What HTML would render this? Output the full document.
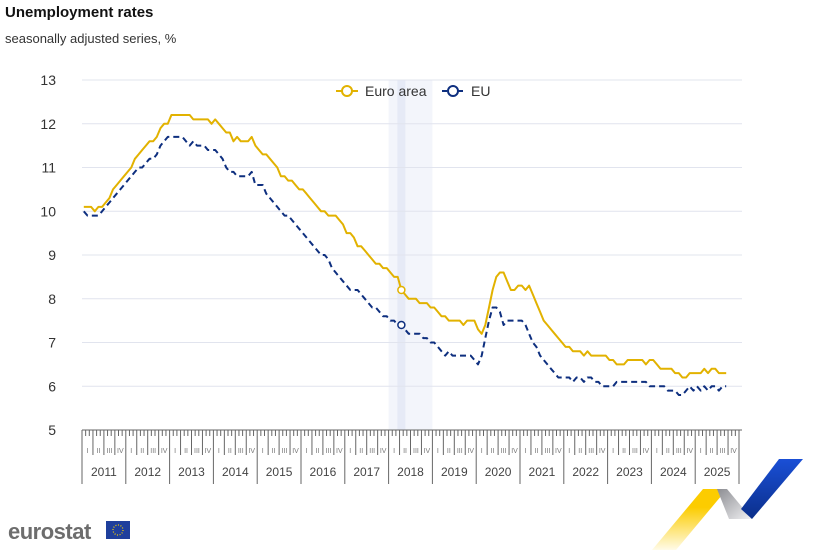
<!DOCTYPE html>
<html><head><meta charset="utf-8"><style>
body{margin:0;width:823px;height:550px;background:#fff;font-family:"Liberation Sans",Arial,sans-serif;overflow:hidden}
svg{position:absolute;left:0;top:0}
</style></head><body>
<svg id="c" width="823" height="550">
<defs>
 <linearGradient id="gy" x1="0" y1="0" x2="0" y2="1"><stop offset="0.3" stop-color="#fccc00"/><stop offset="1" stop-color="#fffbe8"/></linearGradient>
 <linearGradient id="gg" x1="0" y1="0" x2="1" y2="1"><stop offset="0" stop-color="#8c8d92"/><stop offset="1" stop-color="#f2f2f4"/></linearGradient>
 <linearGradient id="gb" x1="0" y1="0" x2="0" y2="1"><stop offset="0" stop-color="#1a4fd6"/><stop offset="1" stop-color="#0b2f8a"/></linearGradient>
</defs>
<text x="5" y="17" font-size="15" font-weight="bold" fill="#111">Unemployment rates</text>
<text x="5" y="43" font-size="13" fill="#333">seasonally adjusted series, %</text>
<g id="grid"></g><g id="axis"></g><g id="series"></g>
<g>
 <g><line x1="336" y1="91" x2="358" y2="91" stroke="#e2b200" stroke-width="2"/><circle cx="347" cy="91" r="5" fill="#fff" stroke="#e2b200" stroke-width="2"/><text x="365" y="96" font-size="14" fill="#333">Euro area</text></g>
 <g><line x1="442" y1="91" x2="464" y2="91" stroke="#0e2f7f" stroke-width="2" stroke-dasharray="5,3"/><circle cx="453" cy="91" r="5" fill="#fff" stroke="#0e2f7f" stroke-width="2"/><text x="471" y="96" font-size="14" fill="#333">EU</text></g>
</g>
<g>
 <text x="8" y="539" font-size="22" font-weight="bold" fill="#6d6d6d" letter-spacing="-0.5">eurostat</text>
 <rect x="106" y="521" width="24" height="18" fill="#1f3f9c"/>
 <circle cx="118" cy="530" r="5" fill="none" stroke="#f7d000" stroke-width="1.2" stroke-dasharray="1,1.6"/>
</g>
<g>
 <polygon points="703,489 727,489 676,550 652,550" fill="url(#gy)"/>
 <polygon points="717,489 727,489 752,519 729,519" fill="url(#gg)"/>
 <polygon points="779,459 803,459 752,519 741,509" fill="url(#gb)"/>
</g>
</svg>
<script>
const yTicks=[5,6,7,8,9,10,11,12,13];
const years=["2011","2012","2013","2014","2015","2016","2017","2018","2019","2020","2021","2022","2023","2024","2025"];
const quarters=["I","II","III","IV"];
const euroArea=[10.1,10.1,10.1,10.0,10.1,10.1,10.2,10.3,10.5,10.6,10.7,10.8,
10.9,11.0,11.2,11.3,11.4,11.5,11.6,11.6,11.7,11.9,12.0,12.0,
12.2,12.2,12.2,12.2,12.2,12.2,12.1,12.1,12.1,12.1,12.1,12.0,
12.1,12.0,11.9,11.8,11.8,11.6,11.7,11.6,11.6,11.6,11.7,11.5,
11.4,11.3,11.3,11.2,11.1,11.0,10.8,10.8,10.7,10.7,10.6,10.5,
10.5,10.4,10.3,10.2,10.1,10.0,10.0,9.9,9.9,9.9,9.8,9.7,
9.5,9.5,9.4,9.2,9.2,9.1,9.0,8.9,8.8,8.8,8.7,8.7,
8.6,8.5,8.5,8.2,8.1,8.0,8.0,8.0,7.9,7.9,7.9,7.8,
7.8,7.7,7.6,7.6,7.5,7.5,7.5,7.5,7.4,7.5,7.5,7.5,
7.3,7.2,7.4,7.8,8.2,8.5,8.6,8.6,8.4,8.2,8.2,8.3,
8.3,8.2,8.3,8.1,7.9,7.7,7.5,7.4,7.3,7.2,7.1,7.0,
6.9,6.9,6.8,6.8,6.8,6.7,6.8,6.7,6.7,6.7,6.7,6.7,
6.6,6.6,6.5,6.5,6.5,6.6,6.6,6.6,6.6,6.6,6.5,6.6,
6.6,6.5,6.4,6.4,6.4,6.4,6.3,6.3,6.2,6.2,6.3,6.3,
6.3,6.3,6.4,6.3,6.4,6.4,6.3,6.3,6.3];
const eu=[10.0,9.9,9.9,9.9,9.9,10.0,10.1,10.2,10.3,10.4,10.5,10.6,
10.7,10.8,10.9,11.0,11.0,11.1,11.2,11.2,11.3,11.5,11.6,11.7,
11.7,11.7,11.7,11.7,11.6,11.5,11.6,11.5,11.5,11.5,11.4,11.4,
11.4,11.3,11.2,11.0,10.9,10.9,10.8,10.8,10.8,10.8,10.9,10.6,
10.6,10.6,10.4,10.3,10.2,10.1,10.0,9.9,9.9,9.8,9.7,9.6,
9.5,9.4,9.3,9.2,9.1,9.0,9.0,8.9,8.7,8.6,8.5,8.4,
8.3,8.2,8.2,8.2,8.1,8.0,7.9,7.8,7.8,7.7,7.6,7.6,
7.5,7.5,7.4,7.4,7.3,7.2,7.2,7.2,7.2,7.1,7.1,7.0,
7.0,6.9,6.8,6.7,6.8,6.7,6.7,6.7,6.7,6.7,6.7,6.6,
6.5,6.7,7.1,7.5,7.8,7.8,7.7,7.4,7.5,7.5,7.5,7.5,
7.5,7.4,7.2,7.0,6.9,6.7,6.6,6.5,6.4,6.3,6.2,6.2,
6.2,6.2,6.1,6.2,6.2,6.1,6.2,6.2,6.1,6.1,6.0,6.0,
6.0,6.0,6.1,6.1,6.1,6.1,6.1,6.1,6.1,6.1,6.1,6.0,
6.0,6.0,6.0,6.0,5.9,5.9,5.9,5.8,5.8,5.9,6.0,5.9,
6.0,5.9,6.0,5.9,6.0,6.0,5.9,6.0,6.0];
const highlightIndex=87;
const X0=82,YW=43.8,MW=YW/12,Y0=430,YU=43.75;
const sx=i=>X0+(i+0.5)*MW;
const sy=v=>Y0-(v-5)*YU;
const NS="http://www.w3.org/2000/svg";
function mk(t,a,p){const e=document.createElementNS(NS,t);for(const k in a)e.setAttribute(k,a[k]);p.appendChild(e);return e;}
const grid=document.getElementById('grid'),axis=document.getElementById('axis'),ser=document.getElementById('series');
const band=mk('rect',{x:X0+7*YW,y:80,width:YW,height:350,fill:'#f3f5fb'},grid);


const hl=mk('rect',{x:sx(highlightIndex)-4,y:80,width:8,height:350,fill:'#e6eaf6'},grid);


yTicks.forEach(v=>{
 const l=mk('line',{x1:X0,x2:742,y1:sy(v),y2:sy(v),stroke:'#e1e4ee','stroke-width':1},grid);
 
 
 const t=mk('text',{x:56,y:sy(v)+5,'font-size':14,fill:'#333','text-anchor':'end'},axis);
 t.textContent=v;
 
 
});
mk('line',{x1:X0,x2:742,y1:Y0,y2:Y0,stroke:'#666','stroke-width':1},axis);
for(let m=0;m<=years.length*12;m++){
 const x=X0+m*MW;let y2=436;
 if(m%12==0)y2=484;else if(m%3==0)y2=455;
 mk('line',{x1:x,x2:x,y1:Y0,y2:y2,stroke:'#666','stroke-width':1},axis);
}
years.forEach((y,k)=>{
 quarters.forEach((q,j)=>{
  const t=mk('text',{x:X0+k*YW+(j+0.5)*YW/4,y:453,'font-size':7,fill:'#777','text-anchor':'middle'},axis);
  t.textContent=q;
  
  
 });
 const t=mk('text',{x:X0+(k+0.5)*YW,y:476,'font-size':12,fill:'#444','text-anchor':'middle'},axis);
 t.textContent=y;
 
 
});
function line(data,color,dash,name){
 const p=mk('path',{d:data.map((v,i)=>(i?'L':'M')+sx(i).toFixed(1)+','+sy(v).toFixed(1)).join(''),fill:'none',stroke:color,'stroke-width':2,'stroke-dasharray':dash,'stroke-linejoin':'round'},ser);
 
 
 const c=mk('circle',{cx:sx(highlightIndex),cy:sy(data[highlightIndex]),r:3.5,fill:'#fff',stroke:color,'stroke-width':1.5},ser);
 
 
}
line(euroArea,'#e2b200','none','euro-area-line');
line(eu,'#0e2f7f','6,4','eu-line');
</script>
</body></html>
